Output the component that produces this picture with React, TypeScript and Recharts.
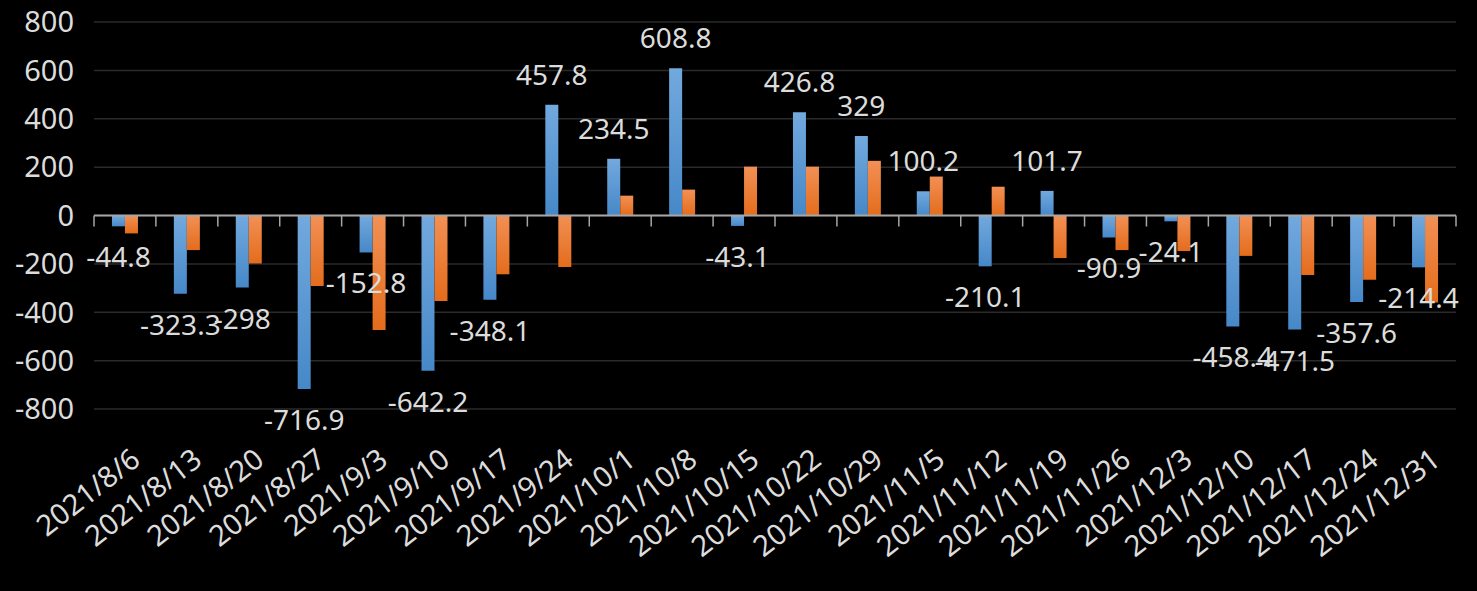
import { BarChart, Bar, XAxis, YAxis, CartesianGrid, ReferenceLine, LabelList } from "recharts";

const categories = [
  "2021/8/6", "2021/8/13", "2021/8/20", "2021/8/27", "2021/9/3", "2021/9/10",
  "2021/9/17", "2021/9/24", "2021/10/1", "2021/10/8", "2021/10/15", "2021/10/22",
  "2021/10/29", "2021/11/5", "2021/11/12", "2021/11/19", "2021/11/26", "2021/12/3",
  "2021/12/10", "2021/12/17", "2021/12/24", "2021/12/31",
];

const blueValues = [
  -44.8, -323.3, -298, -716.9, -152.8, -642.2, -348.1, 457.8, 234.5, 608.8, -43.1,
  426.8, 329, 100.2, -210.1, 101.7, -90.9, -24.1, -458.4, -471.5, -357.6, -214.4,
];

const orangeValues = [
  -74, -143, -198, -291, -473, -354, -243, -213, 82, 107, 202,
  202, 226, 161, 119, -176, -143, -147, -167, -246, -266, -360,
];

const yTicks = [-800, -600, -400, -200, 0, 200, 400, 600, 800];

const data = categories.map((date, i) => ({
  date,
  blue: blueValues[i],
  orange: orangeValues[i],
}));

const FONT = "'Noto Sans', 'Open Sans', sans-serif";
const TEXT = "#dcdcdc";

// x labels: rotated, end of text near the category centre
function DateTick({ x, y, payload }: any) {
  return (
    <g transform={`translate(${x + 17},${y + 54})`}>
      <text
        transform="rotate(-38)"
        textAnchor="end"
        fill={TEXT}
        fontSize={29}
        fontFamily={FONT}
      >
        {payload.value}
      </text>
    </g>
  );
}

// zero axis line with tick marks at category boundaries
function ZeroAxis(props: any) {
  const { x1, y1, x2 } = props;
  const n = categories.length;
  const step = (x2 - x1) / n;
  return (
    <g>
      <line x1={x1} y1={y1} x2={x2} y2={y1} stroke="#a6a6a6" strokeWidth={2} />
      {Array.from({ length: n + 1 }, (_, i) => (
        <line
          key={i}
          x1={x1 + i * step}
          x2={x1 + i * step}
          y1={y1}
          y2={y1 + 11}
          stroke="#a6a6a6"
          strokeWidth={1.5}
        />
      ))}
    </g>
  );
}

function ValueLabel(props: any) {
  const { x, y, width, height, value } = props;
  const top = Math.min(y, y + height);
  const bottom = Math.max(y, y + height);
  const cy = value >= 0 ? top - 31 : bottom + 30;
  return (
    <text
      x={x + width / 2}
      y={cy}
      textAnchor="middle"
      dominantBaseline="central"
      fill={TEXT}
      fontSize={28}
      fontFamily={FONT}
    >
      {value}
    </text>
  );
}

export default function App() {
  return (
    <div style={{ width: 1477, height: 591, background: "#000" }}>
      <style>{"body{margin:0;background:#000}"}</style>
      <BarChart
        width={1477}
        height={591}
        data={data}
        margin={{ top: 22, right: 21, bottom: 0, left: 0 }}
        barCategoryGap="29%"
        barGap={0}
      >
        <defs>
          <linearGradient id="blueGrad" x1="0" y1="0" x2="0" y2="1">
            <stop offset="0%" stopColor="#72a9de" />
            <stop offset="100%" stopColor="#4688c8" />
          </linearGradient>
          <linearGradient id="orangeGrad" x1="0" y1="0" x2="0" y2="1">
            <stop offset="0%" stopColor="#f29055" />
            <stop offset="100%" stopColor="#e46c1c" />
          </linearGradient>
        </defs>
        <CartesianGrid vertical={false} stroke="#2a2a2a" strokeWidth={1.5} />
        <XAxis
          dataKey="date"
          interval={0}
          height={182}
          axisLine={false}
          tickLine={false}
          tickSize={0}
          tickMargin={0}
          tick={<DateTick />}
        />
        <YAxis
          domain={[-800, 800]}
          ticks={yTicks}
          width={94}
          axisLine={false}
          tickLine={false}
          tickSize={0}
          tickMargin={20}
          tick={{ fill: TEXT, fontSize: 29, fontFamily: FONT }}
        />
        <Bar dataKey="blue" fill="url(#blueGrad)" isAnimationActive={false}>
          <LabelList dataKey="blue" content={<ValueLabel />} />
        </Bar>
        <Bar dataKey="orange" fill="url(#orangeGrad)" isAnimationActive={false} />
        <ReferenceLine y={0} shape={<ZeroAxis />} />
      </BarChart>
    </div>
  );
}
